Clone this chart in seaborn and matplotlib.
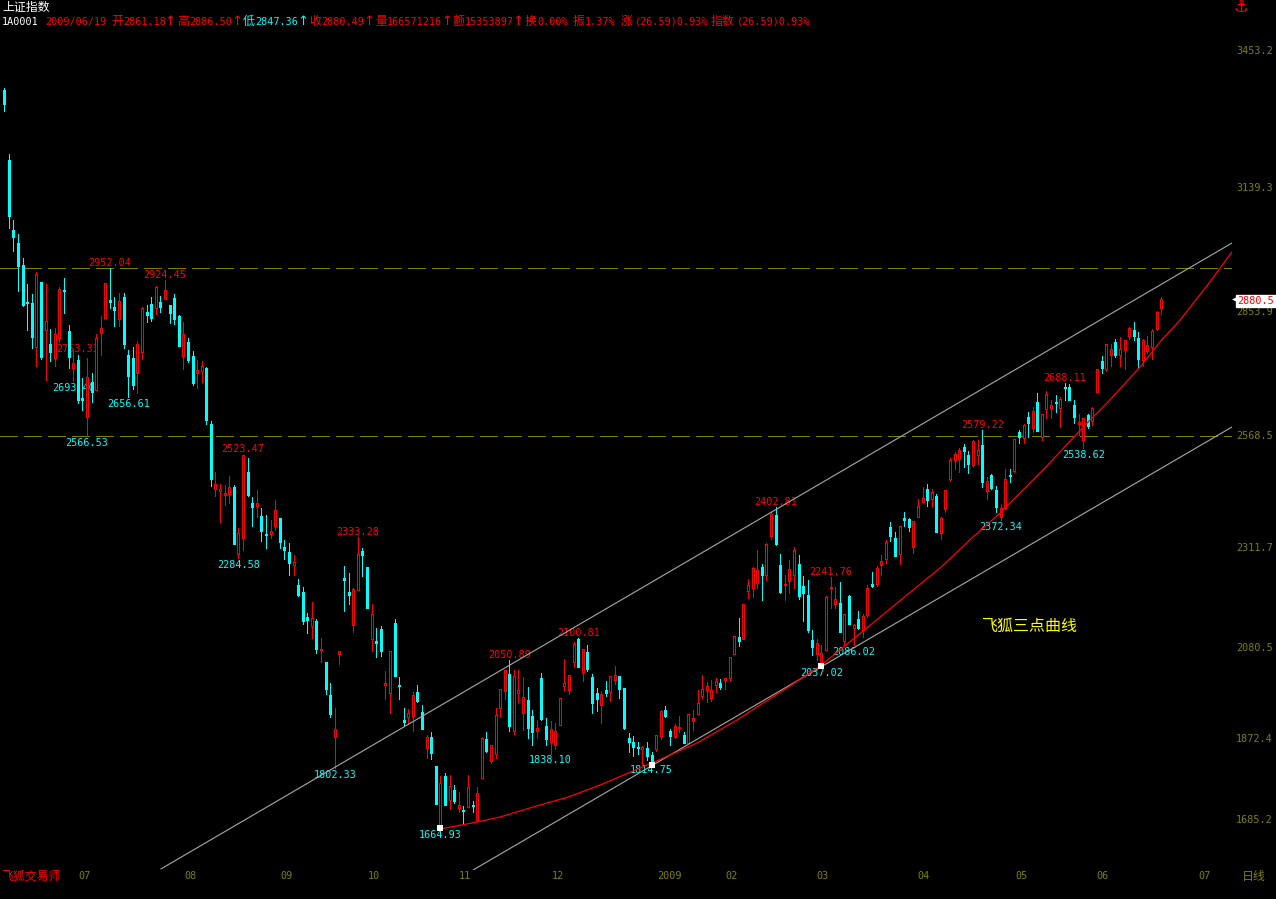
import numpy as np
import pandas as pd
import matplotlib
matplotlib.use('Agg')
import matplotlib.pyplot as plt
import seaborn as sns

# daily candles, Shanghai composite
highs = [3367,3214,3062,3030,2975,2915,2892,2943,2920,2915,
         2812,2814,2908,2929,2821,2764,2753,2699,2745,2711,
         2800,2842,2918,2952,2885,2895,2895,2764,2771,2784,
         2862,2867,2885,2911,2888,2924,2867,2892,2844,2828,
         2791,2761,2741,2738,2725,2600,2483,2456,2453,2474,
         2453,2354,2523,2515,2426,2442,2400,2384,2373,2419,
         2377,2327,2320,2292,2237,2219,2159,2184,2145,2101,
         2046,1998,1941,2072,2267,2251,2216,2333,2308,2265,
         2180,2124,2129,2026,2072,2145,2012,1941,1938,1977,
         1993,1947,1878,1885,1807,1784,1791,1787,1764,1747,
         1715,1787,1727,1759,1874,1885,1855,1941,1984,2028,
         2051,2028,2028,2012,1989,1936,1913,2021,1918,1911,
         1906,1964,2053,2016,2092,2101,2076,2085,2019,1987,
         1980,2003,2014,2037,2014,1987,1883,1876,1862,1853,
         1862,1839,1878,1936,1945,1892,1904,1922,1885,1927,
         1936,1982,2016,2000,2005,2010,2007,2010,2058,2106,
         2147,2180,2237,2265,2304,2272,2320,2391,2403,2295,
         2246,2281,2311,2292,2244,2235,2120,2099,2085,2198,
         2242,2219,2230,2157,2200,2134,2164,2157,2223,2253,
         2267,2292,2327,2368,2345,2359,2391,2377,2370,2421,
         2449,2456,2444,2433,2380,2442,2515,2529,2538,2547,
         2531,2557,2557,2579,2472,2479,2451,2410,2490,2490,
         2559,2580,2593,2621,2633,2665,2616,2669,2649,2660,
         2656,2688,2685,2649,2616,2607,2616,2633,2720,2750,
         2777,2777,2789,2793,2787,2816,2828,2805,2789,2796,
         2812,2853,2886.5]
lows = [3312,3045,2991,2899,2865,2810,2768,2727,2743,2695,
        2738,2727,2782,2849,2722,2692,2642,2626,2566.5,2644,
        2672,2752,2837,2860,2819,2819,2768,2656.6,2674,2665,
        2743,2828,2830,2846,2851,2881,2826,2823,2773,2720,
        2736,2683,2676,2690,2594,2451,2428,2368,2407,2412,
        2318,2284.6,2304,2428,2359,2380,2324,2308,2331,2350,
        2308,2283,2246,2246,2198,2134,2113,2101,2067,2046,
        1973,1920,1802,2042,2164,2180,2115,2212,2244,2170,
        2072,2058,2060,1961,1929,2014,1961,1899,1904,1888,
        1954,1892,1826,1823,1720,1664.9,1718,1708,1722,1701,
        1676,1713,1701,1681,1780,1839,1814,1826,1920,1961,
        1888,1881,1954,1890,1872,1855,1872,1913,1855,1835,
        1846,1901,1982,1973,2035,2035,2003,2026,1929,1934,
        1906,1968,1957,1996,1964,1892,1839,1830,1835,1812,
        1821,1815,1842,1869,1920,1856,1872,1885,1860,1860,
        1890,1927,1964,1954,1957,1977,1984,1984,2003,2065,
        2083,2099,2193,2196,2216,2189,2235,2329,2315,2205,
        2189,2205,2216,2191,2141,2115,2062,2051,2037,2074,
        2170,2170,2115,2085,2134,2086,2122,2104,2150,2219,
        2221,2249,2274,2324,2290,2272,2359,2347,2297,2380,
        2414,2405,2405,2345,2329,2391,2462,2490,2483,2495,
        2481,2495,2502,2449,2421,2444,2391,2372,2398,2460,
        2483,2550,2550,2564,2575,2577,2557,2607,2607,2621,
        2587,2649,2649,2596,2568,2538.6,2584,2591,2667,2711,
        2715,2727,2747,2727,2720,2789,2787,2722,2727,2757,
        2743,2810,2847.4]
opens = [3361,3200,3040,3010,2959,2875,2872,2771,2920,2810,
         2777,2746,2791,2902,2807,2723,2741,2653,2610,2690,
         2672,2803,2837,2879,2862,2835,2885,2752,2745,2711,
         2760,2851,2869,2860,2874,2881,2867,2883,2842,2750,
         2782,2750,2711,2715,2722,2593,2444,2439,2430,2433,
         2449,2295,2331,2483,2412,2405,2382,2341,2341,2359,
         2377,2311,2299,2269,2223,2207,2150,2129,2141,2074,
         2046,1970,1874,2065,2239,2207,2131,2212,2301,2265,
         2099,2095,2122,1993,1975,2136,1993,1913,1920,1922,
         1977,1931,1849,1874,1807,1668,1784,1729,1752,1711,
         1706,1713,1718,1683,1780,1869,1819,1835,1941,1980,
         2019,1888,1975,1929,1959,1922,1888,2010,1899,1862,
         1855,1901,1991,1982,2046,2099,2023,2069,2012,1975,
         1947,1982,1977,2005,2014,1987,1872,1862,1851,1846,
         1849,1832,1846,1876,1936,1888,1874,1895,1878,1860,
         1911,1927,1968,1982,1964,1993,1998,2005,2010,2065,
         2104,2099,2210,2216,2228,2265,2246,2336,2384,2269,
         2223,2233,2246,2272,2221,2200,2097,2065,2039,2074,
         2216,2180,2182,2095,2198,2124,2145,2120,2154,2226,
         2226,2269,2283,2357,2331,2295,2377,2375,2311,2380,
         2414,2444,2421,2428,2343,2398,2467,2511,2513,2541,
         2522,2499,2522,2545,2439,2476,2442,2380,2400,2476,
         2485,2575,2561,2610,2584,2644,2564,2628,2630,2644,
         2630,2679,2679,2637,2593,2557,2614,2600,2667,2738,
         2720,2752,2782,2752,2764,2796,2810,2791,2741,2761,
         2770,2812,2861.18]
closes = [3329,3072,3024,2957,2867,2872,2794,2938,2748,2830,
          2759,2800,2904,2899,2748,2733,2649,2649,2701,2667,
          2791,2813,2918,2874,2856,2876,2777,2704,2683,2777,
          2860,2844,2837,2908,2862,2902,2849,2835,2773,2800,
          2741,2688,2718,2727,2603,2467,2456,2444,2435,2449,
          2318,2343,2522,2430,2403,2412,2347,2338,2347,2396,
          2322,2304,2274,2276,2200,2141,2143,2147,2076,2076,
          1984,1927,1892,2072,2235,2200,2214,2295,2292,2170,
          2157,2090,2072,1998,2072,2014,1991,1908,1929,1970,
          1957,1892,1874,1837,1720,1768,1718,1761,1727,1718,
          1704,1759,1715,1745,1872,1842,1855,1924,1984,2028,
          1899,2014,1982,1966,1895,1885,1895,1915,1869,1892,
          1888,1964,1998,2016,2088,2035,2076,2030,1952,1961,
          1973,1975,2014,2016,1984,1895,1862,1851,1849,1851,
          1830,1819,1878,1934,1922,1876,1899,1897,1860,1927,
          1918,1952,1984,1991,1982,2003,1989,2010,2058,2106,
          2095,2180,2223,2262,2258,2246,2318,2387,2318,2207,
          2226,2260,2304,2198,2205,2120,2081,2090,2067,2196,
          2219,2191,2115,2157,2134,2131,2124,2152,2216,2221,
          2262,2278,2322,2336,2290,2359,2373,2357,2370,2405,
          2423,2419,2437,2345,2377,2442,2511,2524,2534,2531,
          2502,2554,2534,2460,2462,2446,2403,2400,2467,2474,
          2559,2564,2591,2596,2623,2577,2616,2662,2637,2642,
          2651,2676,2649,2610,2598,2607,2589,2630,2720,2722,
          2777,2766,2752,2766,2787,2814,2796,2743,2787,2775,
          2807,2851,2880.49]

# labelled peaks and troughs
peak_idx = [23, 35, 16, 52, 77, 110, 125, 168, 180, 213, 231]
peak_val = [2952.04, 2924.45, 2753.33, 2523.47, 2333.28, 2050.89, 2100.81, 2402.81, 2241.76, 2579.22, 2688.11]
trough_idx = [15, 27, 18, 51, 72, 119, 95, 141, 178, 185, 217, 235]
trough_val = [2693.40, 2656.61, 2566.53, 2284.58, 1802.33, 1838.10, 1664.93, 1814.75, 2037.02, 2086.02, 2372.34, 2538.62]

# drawn lines
h_levels = [2952.04, 2566.53]
upper_x = [34.1, 267.4]
upper_y = [1570.4, 3009.5]
lower_x = [102.1, 267.4]
lower_y = [1568.0, 2586.5]
curve_x = [94.9, 103, 108, 115.2, 122.6, 129.8, 141.1, 150.9, 159.6, 165.3, 170.5, 177.7, 182, 189.2, 196.6,
           203.8, 211, 216.9, 227.1, 235, 240.2, 247.4, 251.7, 256.1, 262.6, 267.4]
curve_y = [1662.3, 1678.4, 1690, 1712.9, 1735, 1763.5, 1814.1, 1860, 1912.9, 1952, 1986.5, 2037, 2073.9, 2135.9, 2200.3,
           2262, 2333.6, 2388.8, 2497, 2586.5, 2641.7, 2724.5, 2781.9, 2832.5, 2919.9, 2988.9]
anchor_x = [95, 141, 178]
anchor_y = [1664.93, 1810, 2037.02]

price_ticks = [3453.2, 3139.3, 2853.9, 2568.5, 2311.7, 2080.5, 1872.4, 1685.2]
month_ticks = [17.4, 40.5, 61.4, 80.5, 100.3, 120.6, 144.8, 158.5, 178.3, 200.3, 221.5, 239.3, 261.5]
month_labels = ['07', '08', '09', '10', '11', '12', '2009', '02', '03', '04', '05', '06', '07']
last_price = 2880.49

RED = '#ff0000'
CYAN = '#00ffff'
OLIVE = '#808000'
GRAY = '#a8a8a8'
YELLOW = '#ffff00'

sns.set_theme(style='dark', rc={'axes.facecolor': 'black', 'figure.facecolor': 'black'})
mono = ['DejaVu Sans Mono', 'Noto Sans CJK SC']
cjk = ['Noto Sans CJK SC', 'DejaVu Sans']
plt.rcParams['font.family'] = mono

W, H = 1276, 899
fig = plt.figure(figsize=(W / 100, H / 100), dpi=100, facecolor='black')
ax = fig.add_axes([0, (H - 870) / H, 1232 / W, 840 / H])

df = pd.DataFrame({'open': opens, 'high': highs, 'low': lows, 'close': closes})
df['idx'] = df.index
df['top'] = df[['open', 'close']].max(axis=1)
df['bot'] = df[['open', 'close']].min(axis=1)
df['size'] = df['top'] - df['bot']
up = df[df['close'] >= df['open']]
down = df[df['close'] < df['open']]

# wicks go under the bodies, the hollow red bodies are filled black
ax.vlines(up['idx'], up['low'], up['high'], color=RED, lw=0.72, antialiased=False, zorder=2)
ax.vlines(down['idx'], down['low'], down['high'], color=CYAN, lw=0.72, antialiased=False, zorder=2)
body_w = 2 / 4.591
sns.barplot(data=up, x='idx', y='size', bottom=up['bot'].values, native_scale=True, width=body_w,
            color='black', saturation=1, edgecolor=RED, linewidth=0.72, errorbar=None,
            antialiased=False, zorder=3, ax=ax)
sns.barplot(data=down, x='idx', y='size', bottom=down['bot'].values, native_scale=True, width=body_w,
            color=CYAN, saturation=1, edgecolor=CYAN, linewidth=0.72, errorbar=None,
            antialiased=False, zorder=3, ax=ax)

for lvl in h_levels:
    ax.axhline(lvl, color=OLIVE, lw=0.72, linestyle=(0, (18, 6)), antialiased=False, zorder=1)

sns.lineplot(x=upper_x, y=upper_y, color=GRAY, lw=0.8, ax=ax, zorder=4, errorbar=None)
sns.lineplot(x=lower_x, y=lower_y, color=GRAY, lw=0.8, ax=ax, zorder=4, errorbar=None)
sns.lineplot(x=curve_x, y=curve_y, color=RED, lw=0.9, ax=ax, zorder=5, errorbar=None, sort=False)
sns.scatterplot(x=anchor_x, y=anchor_y, marker='s', color='white', s=20, linewidth=0, ax=ax, zorder=6)

# value labels sit behind the candles
for i, v in zip(peak_idx, peak_val):
    ax.annotate(f'{v:.2f}', (i, v), xytext=(0, 5), textcoords='offset pixels', ha='center', va='center',
                color=RED, fontsize=7.3, zorder=1)
for i, v in zip(trough_idx, trough_val):
    ax.annotate(f'{v:.2f}', (i, v), xytext=(0, -7), textcoords='offset pixels', ha='center', va='center',
                color=CYAN, fontsize=7.3, zorder=1)

ax.set_xlim(-4.3 / 4.591, (1232 - 4.3) / 4.591)
ax.set_ylim(3568.2 - 2.299 * 870, 3568.2 - 2.299 * 30)
ax.set_xlabel('')
ax.set_ylabel('')
ax.set_xticks(month_ticks)
ax.set_xticklabels(month_labels)
ax.set_yticks(price_ticks)
ax.set_yticklabels([f'{p:.1f}' for p in price_ticks])
ax.yaxis.tick_right()
ax.tick_params(axis='both', length=0, colors=OLIVE, labelsize=7.3)
ax.tick_params(axis='x', pad=1)
ax.tick_params(axis='y', pad=3)
ax.grid(False)
sns.despine(ax=ax, left=True, bottom=True, right=True, top=True)


def put(x, y, s, color, size=7.3, family=mono, **kw):
    fig.text(x / W, 1 - y / H, s, color=color, fontsize=size, family=family, va='baseline', **kw)


put(2, 11, '上证指数', 'white', 8.6, cjk)
put(2, 25, '1A0001', 'white')

header = [(45, '2009/06/19', RED), (111, '开', RED), (123, '2861.18', RED),
          (177, '高', RED), (189, '2886.50', RED),
          (243, '低', CYAN), (255, '2847.36', CYAN),
          (309, '收', RED), (321, '2880.49', RED),
          (375, '量', RED), (387, '166571216', RED),
          (453, '额', RED), (465, '15353897', RED),
          (525, '换', RED), (537, '0.00%', RED), (573, '振', RED), (585, '1.37%', RED),
          (621, '涨', RED), (635, '(26.59)0.93%', RED), (711, '指数', RED), (737, '(26.59)0.93%', RED)]
for x, s, c in header:
    is_cjk = ord(s[0]) > 0x4e00
    put(x, 25, s, c, 8.6 if is_cjk else 7.3, cjk if is_cjk else mono)
for x, c in [(170, RED), (236.5, RED), (302.5, CYAN), (368.5, RED), (447, RED), (518, RED)]:
    put(x, 25, '↑', c, 9.5, ['DejaVu Sans'], ha='center')

put(1, 880, '飞狐交易师', RED, 8.6, cjk)
put(1242, 880, '日线', OLIVE, 8.6, cjk)
put(982, 631, '飞狐三点曲线', YELLOW, 11.5, cjk)
put(1241, 12, '⚓', RED, 12, ['DejaVu Sans'], fontweight='bold', ha='center')

# last price flag on the right edge
put(1237, 304, f'{last_price:.1f}', RED, 7.3, mono,
    bbox=dict(facecolor='white', edgecolor='white', pad=1))
ax.plot([267.9], [last_price], marker='<', color='white', ms=3.5, mew=0, clip_on=False, zorder=7)

plt.savefig('out.png', dpi=100, facecolor='black')
